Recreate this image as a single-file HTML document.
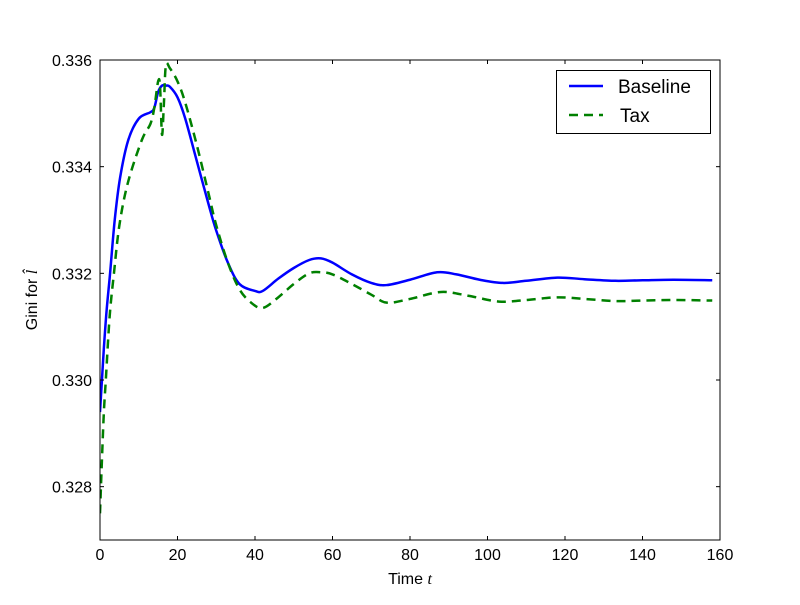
<!DOCTYPE html>
<html><head><meta charset="utf-8"><style>
body{margin:0;background:#fff}
svg text{font-family:"Liberation Sans","DejaVu Sans",sans-serif}
</style></head><body>
<svg id="chart" width="800" height="600" xmlns="http://www.w3.org/2000/svg">
<rect width="800" height="600" fill="#fff"/>
<g id="plot"></g>
<g id="axes"></g>
</svg>
<script>
const baseT=[0,0.5,1,1.7,2.6,3.8,5.2,7.3,10,13,14,15,16,17,18,20,22,25,28,30,33,36,40,42,46,50,54,57,60,65,70,74,80,87,92,98,104,110,118,125,133,140,148,158];
const baseV=[0.3294,0.3300,0.3306,0.3313,0.3320,0.3330,0.3338,0.3345,0.3349,0.33502,0.3351,0.3354,0.33552,0.33552,0.3355,0.3353,0.3349,0.3341,0.3333,0.3328,0.3322,0.3318,0.33167,0.33167,0.3319,0.3321,0.33225,0.33228,0.3322,0.33198,0.33182,0.33178,0.33188,0.33202,0.33198,0.33188,0.33182,0.33186,0.33192,0.33189,0.33186,0.33187,0.33188,0.33187];
const taxT=[0,0.5,1,1.5,2.5,3.6,5,7.2,10.8,13,14,15,15.5,16,16.5,17,18,20,22,25,28,30,33,36,39,42,46,50,54,57,60,65,70,74,80,88,95,103,110,118,125,133,140,148,158];
const taxV=[0.3275,0.3285,0.3294,0.3300,0.3312,0.3320,0.3329,0.3337,0.3345,0.3348,0.3351,0.3356,0.3355,0.3346,0.3352,0.3359,0.33585,0.3356,0.3352,0.3344,0.3335,0.3329,0.3322,0.3317,0.33145,0.33135,0.33155,0.3318,0.332,0.33202,0.33198,0.3318,0.3316,0.33145,0.33152,0.33165,0.33158,0.33147,0.3315,0.33155,0.33152,0.33148,0.33149,0.3315,0.33149];
const xTicks=[0,20,40,60,80,100,120,140,160];
const yTicks=[0.328,0.330,0.332,0.334,0.336];
const X0=100,X1=720,Y0=60,Y1=540,XMIN=0,XMAX=160,YMIN=0.327,YMAX=0.336;
const sx=t=>X0+(t-XMIN)/(XMAX-XMIN)*(X1-X0);
const sy=v=>Y1-(v-YMIN)/(YMAX-YMIN)*(Y1-Y0);
const NS="http://www.w3.org/2000/svg";
function mk(tag,attrs,parent){const e=document.createElementNS(NS,tag);for(const k in attrs)e.setAttribute(k,attrs[k]);parent.appendChild(e);return e;}
function path(T,V){
  const p=T.map((t,i)=>[sx(t),sy(V[i])]);
  let d="M"+p[0][0]+","+p[0][1];
  for(let i=0;i<p.length-1;i++){
    const a=p[Math.max(0,i-1)],b=p[i],c=p[i+1],e=p[Math.min(p.length-1,i+2)];
    const c1=[b[0]+(c[0]-a[0])/6,b[1]+(c[1]-a[1])/6],c2=[c[0]-(e[0]-b[0])/6,c[1]-(e[1]-b[1])/6];
    d+=" C"+c1+" "+c2+" "+c;
  }
  return d;
}
const plot=document.getElementById('plot');
const cp=mk('clipPath',{id:'clip'},plot);
mk('rect',{x:X0,y:Y0,width:X1-X0,height:Y1-Y0},cp);
const pb=mk('path',{d:path(baseT,baseV),fill:'none',stroke:'#0000ff','stroke-width':2.5,'clip-path':'url(#clip)'},plot);


const pt=mk('path',{d:path(taxT,taxV),fill:'none',stroke:'#008000','stroke-width':2.5,'stroke-dasharray':'9,6','clip-path':'url(#clip)'},plot);


const ax=document.getElementById('axes');
const fr=mk('rect',{x:X0,y:Y0,width:X1-X0,height:Y1-Y0,fill:'none',stroke:'#000','stroke-width':1},ax);


xTicks.forEach(t=>{
  const x=sx(t);
  mk('line',{x1:x,x2:x,y1:Y1,y2:Y1-4,stroke:'#000'},ax);
  mk('line',{x1:x,x2:x,y1:Y0,y2:Y0+4,stroke:'#000'},ax);
  const tx=mk('text',{x:x,y:Y1+20,'text-anchor':'middle','font-size':16},ax);tx.textContent=t;
  
  
});
yTicks.forEach(v=>{
  const y=sy(v);
  mk('line',{x1:X0,x2:X0+4,y1:y,y2:y,stroke:'#000'},ax);
  mk('line',{x1:X1,x2:X1-4,y1:y,y2:y,stroke:'#000'},ax);
  const tx=mk('text',{x:X0-8,y:y+6,'text-anchor':'end','font-size':16},ax);tx.textContent=v.toFixed(3);
  
  
});
</script>
<svg style="position:absolute;left:0;top:0" width="800" height="600" xmlns="http://www.w3.org/2000/svg">
<text x="410" y="584" text-anchor="middle" font-size="16">Time <tspan font-style="italic" font-family="Liberation Serif,serif">t</tspan></text>
<text transform="translate(37,300) rotate(-90)" text-anchor="middle" font-size="16">Gini for <tspan font-style="italic" font-family="Liberation Serif,serif">l̂</tspan></text>
<g>
<rect x="556.5" y="70.5" width="154" height="63" fill="#fff" stroke="#000"/>
<line x1="569" x2="603" y1="86" y2="86" stroke="#0000ff" stroke-width="2.5"/>
<text x="618" y="93" font-size="19">Baseline</text>
<line x1="569" x2="603" y1="115" y2="115" stroke="#008000" stroke-width="2.5" stroke-dasharray="9,6"/>
<text x="620" y="122" font-size="19">Tax</text>
</g>
</svg>
</body></html>
